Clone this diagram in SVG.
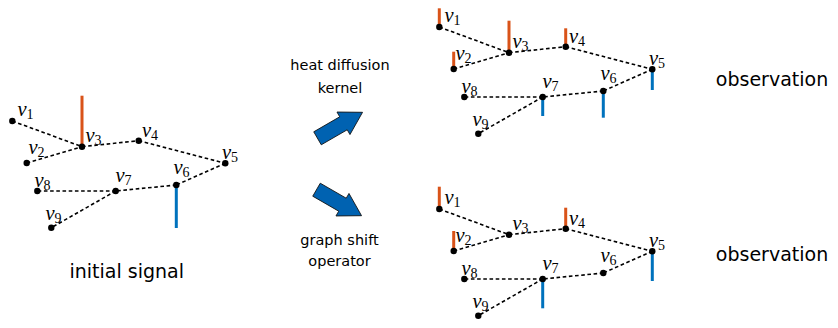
<svg xmlns="http://www.w3.org/2000/svg" width="838" height="328" viewBox="0 0 838 328">
<style>
.e{stroke:#000;stroke-width:1.6;stroke-dasharray:3.6 2.6;fill:none}
.d{fill:#000}
.r{stroke:#D95319;stroke-width:3;fill:none}
.b{stroke:#0072BD;stroke-width:3;fill:none}
.lb{font-family:"Liberation Serif",serif;font-style:italic;font-size:20.5px;fill:#000}
.sb{font-style:normal;font-size:14px}
.t{font-family:"DejaVu Sans",sans-serif;font-size:14.5px;fill:#000;text-anchor:middle}
.big{font-family:"DejaVu Sans",sans-serif;font-size:19px;fill:#000;text-anchor:middle}
.ar{fill:#0062B1;stroke:#111;stroke-width:0.8;stroke-linejoin:miter}
</style>
<defs>
<path id="arrowShape" d="M0,-7.5 L30,-7.5 L30,-13 L52,0 L30,13 L30,7.5 L0,7.5 Z"/>
</defs>

<!-- Connectors: graph edges for each of the three graphs -->
<g id="connectors">
  <g id="edges-initial">
    <path class="e" d="M12.3,121 L82,146.7 M26.7,163 L82,146.7 M82,146.7 L138.7,140.7 M138.7,140.7 L225.3,163.3 M225.3,163.3 L176.3,185 M176.3,185 L115.7,191 M115.7,191 L37.3,191 M115.7,191 L51.3,227.7"/>
  </g>
  <g id="edges-heat" transform="translate(427,-94)">
    <path class="e" d="M12.3,121 L82,146.7 M26.7,163 L82,146.7 M82,146.7 L138.7,140.7 M138.7,140.7 L225.3,163.3 M225.3,163.3 L176.3,185 M176.3,185 L115.7,191 M115.7,191 L37.3,191 M115.7,191 L51.3,227.7"/>
  </g>
  <g id="edges-shift" transform="translate(427,88)">
    <path class="e" d="M12.3,121 L82,146.7 M26.7,163 L82,146.7 M82,146.7 L138.7,140.7 M138.7,140.7 L225.3,163.3 M225.3,163.3 L176.3,185 M176.3,185 L115.7,191 M115.7,191 L37.3,191 M115.7,191 L51.3,227.7"/>
  </g>
  <g id="arrows">
    <use href="#arrowShape" class="ar" transform="translate(317.5,138.3) rotate(-30)"/>
    <use href="#arrowShape" class="ar" transform="translate(316.5,189.7) rotate(30)"/>
  </g>
</g>

<!-- Initial signal graph -->
<g id="graph-initial">
  <g id="a-v1"><circle class="d" cx="12.3" cy="121" r="3.2"/><text class="lb" x="17.5" y="116">v<tspan class="sb" dy="3">1</tspan></text></g>
  <g id="a-v2"><circle class="d" cx="26.7" cy="163" r="3.2"/><text class="lb" x="28.5" y="154">v<tspan class="sb" dy="3">2</tspan></text></g>
  <g id="a-v3"><line class="r" x1="82" y1="95.7" x2="82" y2="146.7"/><circle class="d" cx="82" cy="146.7" r="3.2"/><text class="lb" x="85.5" y="142">v<tspan class="sb" dy="3">3</tspan></text></g>
  <g id="a-v4"><circle class="d" cx="138.7" cy="140.7" r="3.2"/><text class="lb" x="142" y="137">v<tspan class="sb" dy="3">4</tspan></text></g>
  <g id="a-v5"><circle class="d" cx="225.3" cy="163.3" r="3.2"/><text class="lb" x="222" y="159">v<tspan class="sb" dy="3">5</tspan></text></g>
  <g id="a-v6"><line class="b" x1="176.3" y1="185" x2="176.3" y2="228"/><circle class="d" cx="176.3" cy="185" r="3.2"/><text class="lb" x="173.5" y="174">v<tspan class="sb" dy="3">6</tspan></text></g>
  <g id="a-v7"><circle class="d" cx="115.7" cy="191" r="3.2"/><text class="lb" x="115.5" y="181.5">v<tspan class="sb" dy="3">7</tspan></text></g>
  <g id="a-v8"><circle class="d" cx="37.3" cy="191" r="3.2"/><text class="lb" x="34.5" y="186.5">v<tspan class="sb" dy="3">8</tspan></text></g>
  <g id="a-v9"><circle class="d" cx="51.3" cy="227.7" r="3.2"/><text class="lb" x="45.5" y="220">v<tspan class="sb" dy="3">9</tspan></text></g>
</g>

<!-- Heat diffusion observation graph -->
<g id="graph-heat" transform="translate(427,-94)">
  <g id="h-v1"><line class="r" x1="12.3" y1="102.3" x2="12.3" y2="121"/><circle class="d" cx="12.3" cy="121" r="3.2"/><text class="lb" x="17.5" y="116">v<tspan class="sb" dy="3">1</tspan></text></g>
  <g id="h-v2"><line class="r" x1="26.7" y1="145.7" x2="26.7" y2="163"/><circle class="d" cx="26.7" cy="163" r="3.2"/><text class="lb" x="28.5" y="154">v<tspan class="sb" dy="3">2</tspan></text></g>
  <g id="h-v3"><line class="r" x1="82" y1="114.7" x2="82" y2="146.7"/><circle class="d" cx="82" cy="146.7" r="3.2"/><text class="lb" x="85.5" y="142">v<tspan class="sb" dy="3">3</tspan></text></g>
  <g id="h-v4"><line class="r" x1="138.7" y1="122.3" x2="138.7" y2="140.7"/><circle class="d" cx="138.7" cy="140.7" r="3.2"/><text class="lb" x="142" y="137">v<tspan class="sb" dy="3">4</tspan></text></g>
  <g id="h-v5"><line class="b" x1="225.3" y1="163.3" x2="225.3" y2="184"/><circle class="d" cx="225.3" cy="163.3" r="3.2"/><text class="lb" x="222" y="159">v<tspan class="sb" dy="3">5</tspan></text></g>
  <g id="h-v6"><line class="b" x1="176.3" y1="185" x2="176.3" y2="211.7"/><circle class="d" cx="176.3" cy="185" r="3.2"/><text class="lb" x="173.5" y="174">v<tspan class="sb" dy="3">6</tspan></text></g>
  <g id="h-v7"><line class="b" x1="115.7" y1="191" x2="115.7" y2="210"/><circle class="d" cx="115.7" cy="191" r="3.2"/><text class="lb" x="115.5" y="181.5">v<tspan class="sb" dy="3">7</tspan></text></g>
  <g id="h-v8"><circle class="d" cx="37.3" cy="191" r="3.2"/><text class="lb" x="34.5" y="186.5">v<tspan class="sb" dy="3">8</tspan></text></g>
  <g id="h-v9"><circle class="d" cx="51.3" cy="227.7" r="3.2"/><text class="lb" x="45.5" y="220">v<tspan class="sb" dy="3">9</tspan></text></g>
</g>

<!-- Graph shift operator observation graph -->
<g id="graph-shift" transform="translate(427,88)">
  <g id="s-v1"><line class="r" x1="12.3" y1="98.7" x2="12.3" y2="121"/><circle class="d" cx="12.3" cy="121" r="3.2"/><text class="lb" x="17.5" y="116">v<tspan class="sb" dy="3">1</tspan></text></g>
  <g id="s-v2"><line class="r" x1="26.7" y1="143" x2="26.7" y2="163"/><circle class="d" cx="26.7" cy="163" r="3.2"/><text class="lb" x="28.5" y="154">v<tspan class="sb" dy="3">2</tspan></text></g>
  <g id="s-v3"><circle class="d" cx="82" cy="146.7" r="3.2"/><text class="lb" x="85.5" y="142">v<tspan class="sb" dy="3">3</tspan></text></g>
  <g id="s-v4"><line class="r" x1="138.7" y1="119.7" x2="138.7" y2="140.7"/><circle class="d" cx="138.7" cy="140.7" r="3.2"/><text class="lb" x="142" y="137">v<tspan class="sb" dy="3">4</tspan></text></g>
  <g id="s-v5"><line class="b" x1="225.3" y1="163.3" x2="225.3" y2="193"/><circle class="d" cx="225.3" cy="163.3" r="3.2"/><text class="lb" x="222" y="159">v<tspan class="sb" dy="3">5</tspan></text></g>
  <g id="s-v6"><circle class="d" cx="176.3" cy="185" r="3.2"/><text class="lb" x="173.5" y="174">v<tspan class="sb" dy="3">6</tspan></text></g>
  <g id="s-v7"><line class="b" x1="115.7" y1="191" x2="115.7" y2="220.3"/><circle class="d" cx="115.7" cy="191" r="3.2"/><text class="lb" x="115.5" y="181.5">v<tspan class="sb" dy="3">7</tspan></text></g>
  <g id="s-v8"><circle class="d" cx="37.3" cy="191" r="3.2"/><text class="lb" x="34.5" y="186.5">v<tspan class="sb" dy="3">8</tspan></text></g>
  <g id="s-v9"><circle class="d" cx="51.3" cy="227.7" r="3.2"/><text class="lb" x="45.5" y="220">v<tspan class="sb" dy="3">9</tspan></text></g>
</g>

<g id="captions">
  <text class="t" x="340" y="70">heat diffusion</text>
  <text class="t" x="340" y="93">kernel</text>
  <text class="t" x="339.5" y="245">graph shift</text>
  <text class="t" x="339.5" y="266">operator</text>
  <text class="big" x="126.7" y="278">initial signal</text>
  <text class="big" x="772" y="85.5">observation</text>
  <text class="big" x="772" y="260.5">observation</text>
</g>
</svg>
